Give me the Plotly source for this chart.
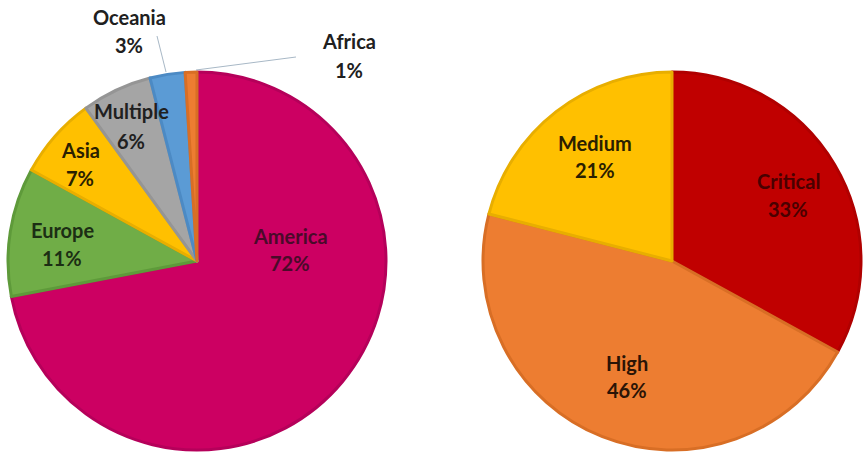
import plotly.graph_objects as go

W, H = 863, 452

# ---- data ----
region_labels = ["America", "Europe", "Asia", "Multiple", "Oceania", "Africa"]
region_values = [72, 11, 7, 6, 3, 1]
region_colors = ["#CC0062", "#70AD47", "#FFC000", "#A5A5A5", "#5B9BD5", "#ED7D31"]
region_lines = ["#B5005A", "#5E9A3A", "#E8AE00", "#959595", "#4C8AC4", "#D86E25"]

severity_labels = ["Critical", "High", "Medium"]
severity_values = [33, 46, 21]
severity_colors = ["#C00000", "#ED7D31", "#FFC000"]
severity_lines = ["#B00000", "#D86E25", "#E8AE00"]

# label placement (pixel centres of the two text lines)
region_label_pos = [(290, 236, 263), (62, 230, 258), (80, 150, 178),
                    (131, 111, 141), (129, 17, 45), (349, 41, 70)]
region_text_col = ["#4A0A2A", "#1C2E14", "#2A2000", "#202020", "#202020", "#202020"]
severity_label_pos = [(788, 181, 209), (627, 363, 390), (595, 143, 170)]
severity_text_col = ["#4A0000", "#2A1406", "#2A2000"]


def px(x):
    return x / W


def py(y):
    return 1 - y / H


fig = go.Figure()
fig.add_trace(go.Pie(
    labels=region_labels, values=region_values, sort=False,
    direction="clockwise", rotation=0, textinfo="none", hoverinfo="label+percent",
    marker=dict(colors=region_colors, line=dict(color=region_lines, width=3)),
    domain=dict(x=[px(8), px(386)], y=[py(450), py(72)]),
    showlegend=False,
))
fig.add_trace(go.Pie(
    labels=severity_labels, values=severity_values, sort=False,
    direction="clockwise", rotation=0, textinfo="none", hoverinfo="label+percent",
    marker=dict(colors=severity_colors, line=dict(color=severity_lines, width=3)),
    domain=dict(x=[px(483), px(861)], y=[py(450), py(72)]),
    showlegend=False,
))

annotations = []
font_family = "Lato, Open Sans, sans-serif"


def add_labels(labels, values, positions, colors):
    total = sum(values)
    for lab, val, (x, y1, y2), c in zip(labels, values, positions, colors):
        pct = round(100 * val / total)
        for txt, yy in ((lab, y1), (f"{pct}%", y2)):
            annotations.append(dict(
                x=px(x), y=py(yy), xref="paper", yref="paper",
                text=f"<b>{txt}</b>", showarrow=False,
                font=dict(family=font_family, size=20, color=c),
                xanchor="center", yanchor="middle",
            ))


add_labels(region_labels, region_values, region_label_pos, region_text_col)
add_labels(severity_labels, severity_values, severity_label_pos, severity_text_col)

shapes = [
    dict(type="line", xref="paper", yref="paper",
         x0=px(157), y0=py(36), x1=px(166), y1=py(72),
         line=dict(color="#A8B8C6", width=1)),
    dict(type="line", xref="paper", yref="paper",
         x0=px(196), y0=py(70), x1=px(296), y1=py(57),
         line=dict(color="#A8B8C6", width=1)),
]

fig.update_layout(
    width=W, height=H,
    margin=dict(l=0, r=0, t=0, b=0),
    paper_bgcolor="white", plot_bgcolor="white",
    annotations=annotations, shapes=shapes,
)

fig.write_html(
    "out.html",
    config={"displayModeBar": False},
    post_script="document.body.style.margin='0';document.body.style.padding='0';",
)
